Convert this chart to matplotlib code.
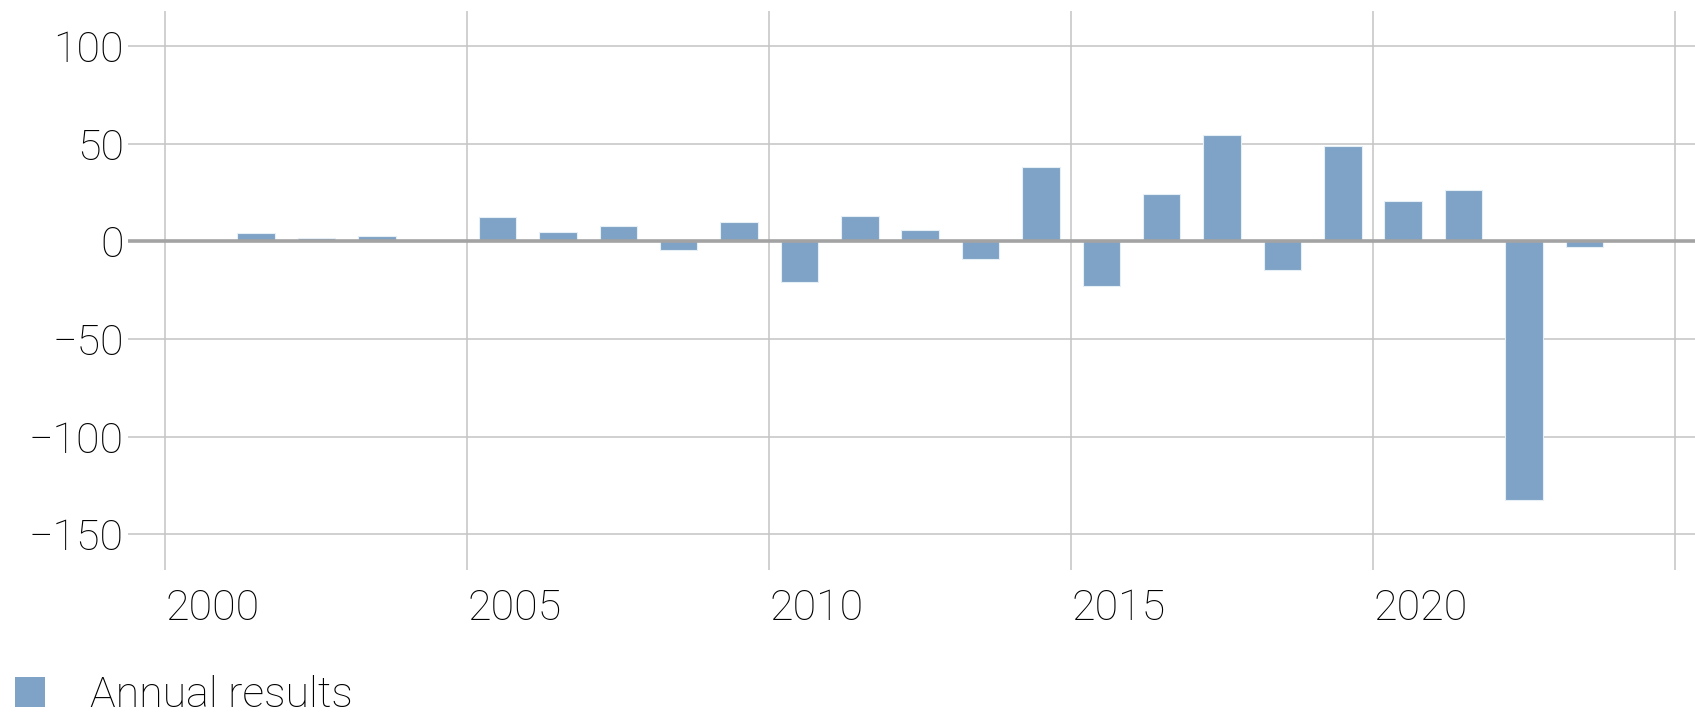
import matplotlib
matplotlib.use("Agg")
import matplotlib.pyplot as plt
from matplotlib.patches import Patch

# ---- data ----
years = list(range(2000, 2024))
annual_results = [0.5, 4.1, 2.0, 3.0, 0.5, 12.6, 4.9, 7.9, -4.6, 9.9,
                  -20.8, 13.0, 6.0, -9.0, 38.2, -23.0, 24.4, 54.5, -14.8, 48.8,
                  20.8, 26.3, -132.3, -3.0]
x_ticks = [2000, 2005, 2010, 2015, 2020, 2025]
x_tick_labels = ["2000", "2005", "2010", "2015", "2020", ""]
y_ticks = [100, 50, 0, -50, -100, -150]
y_tick_labels = ["100", "50", "0", "\u221250", "\u2212100", "\u2212150"]
legend_label = "Annual results"

# ---- style ----
plt.rcParams["font.family"] = ["Roboto", "DejaVu Sans"]
plt.rcParams["font.weight"] = "light"
bar_color = "#7FA3C6"
grid_color = "#C4C4C4"
zero_color = "#A3A3A3"
text_color = "#000000"
fs = 31

fig = plt.figure(figsize=(16.95, 7.15), dpi=100)
ax = fig.add_axes([128 / 1695, 1 - 570 / 715, 1 - 128 / 1695, (570 - 11) / 715])

centers = [y + 0.5 for y in years]
ax.bar(centers, annual_results, width=0.62, color=bar_color,
       edgecolor="#E6EEF6", linewidth=0.8, zorder=2)

ax.set_xlim(1999.379, 2025.333)
ax.set_ylim(-168.2, 118.0)

for yt in y_ticks:
    if yt == 0:
        ax.axhline(yt, color=zero_color, linewidth=2.6, zorder=3)
    else:
        ax.axhline(yt, color=grid_color, linewidth=1.1, zorder=1)
for xt in x_ticks:
    ax.axvline(xt, color=grid_color, linewidth=1.1, zorder=1)

ax.set_xticks(x_ticks)
ax.set_xticklabels(x_tick_labels, ha="left", fontsize=fs, color=text_color)
ax.set_yticks(y_ticks)
ax.set_yticklabels(y_tick_labels, fontsize=fs, color=text_color)
ax.tick_params(axis="both", length=0)
ax.tick_params(axis="x", pad=13)
ax.tick_params(axis="y", pad=3)
for s in ax.spines.values():
    s.set_visible(False)

handle = Patch(facecolor=bar_color, edgecolor="none")
fig.legend([handle], [legend_label], loc="lower left",
           bbox_to_anchor=(6 / 1695, -10 / 715), frameon=False,
           fontsize=fs, handlelength=0.70, handleheight=0.70,
           handletextpad=1.05, borderpad=0.2, borderaxespad=0,
           labelcolor=text_color)

fig.savefig("out.png", dpi=100)
